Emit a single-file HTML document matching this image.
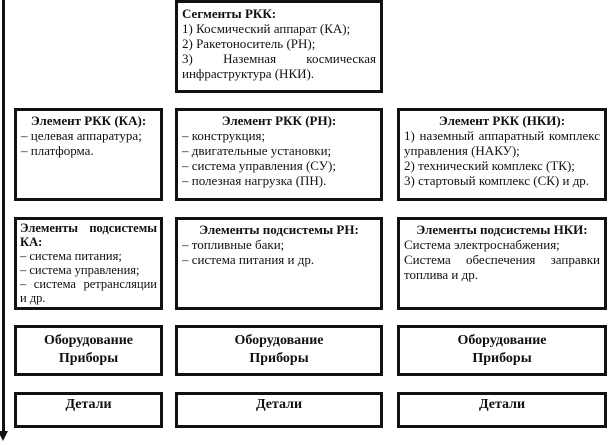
<!DOCTYPE html>
<html><head><meta charset="utf-8"><style>
body{margin:0;width:610px;height:445px;background:#fff;position:relative;overflow:hidden;font-family:"Liberation Serif","DejaVu Serif",serif;font-size:13px;color:#111;}
.b{position:absolute;border:3px solid #111;box-sizing:border-box;padding:2px 4px;line-height:15px;}
.h{font-weight:bold;text-align:center;}
.j{text-align:justify;text-align-last:justify;}
.big{font-weight:bold;text-align:center;font-size:14px;line-height:18px;padding-top:4px;}
</style></head><body>
<div style="position:absolute;left:2px;top:0;width:3px;height:432px;background:#111"></div>
<div style="position:absolute;left:-2px;top:431px;width:0;height:0;border-left:5px solid transparent;border-right:5px solid transparent;border-top:10px solid #111;margin-left:0"></div>

<div class="b" style="left:175px;top:0;width:208px;height:93px;padding-top:3px">
<div style="font-weight:bold">Сегменты РКК:</div>
1) Космический аппарат (КА);<br>2) Ракетоноситель (РН);<br>
<div class="j">3) Наземная космическая</div>инфраструктура (НКИ).</div>

<div class="b" style="left:14px;top:108px;width:149px;height:93px"><div class="h">Элемент РКК (КА):</div>– целевая аппаратура;<br>– платформа.</div>
<div class="b" style="left:175px;top:108px;width:208px;height:93px"><div class="h">Элемент РКК (РН):</div>– конструкция;<br>– двигательные установки;<br>– система управления (СУ);<br>– полезная нагрузка (ПН).</div>
<div class="b" style="left:397px;top:108px;width:210px;height:93px"><div class="h">Элемент РКК (НКИ):</div><div class="j">1) наземный аппаратный комплекс</div>управления (НАКУ);<br>2) технический комплекс (ТК);<br>3) стартовый комплекс (СК) и др.</div>

<div class="b" style="left:14px;top:217px;width:149px;height:93px;line-height:14px;padding-top:1px;padding-left:3px;padding-right:3px;font-size:12.5px"><div class="j" style="font-weight:bold">Элементы подсистемы</div><b>КА:</b><br>– система питания;<br>– система управления;<br><div class="j">– система ретрансляции</div>и др.</div>
<div class="b" style="left:175px;top:217px;width:208px;height:93px"><div class="h">Элементы подсистемы РН:</div>– топливные баки;<br>– система питания и др.</div>
<div class="b" style="left:397px;top:217px;width:210px;height:93px"><div class="h">Элементы подсистемы НКИ:</div>Система электроснабжения;<br><div class="j">Система обеспечения заправки</div>топлива и др.</div>

<div class="b big" style="left:14px;top:325px;width:149px;height:51px">Оборудование<br>Приборы</div>
<div class="b big" style="left:175px;top:325px;width:208px;height:51px">Оборудование<br>Приборы</div>
<div class="b big" style="left:397px;top:325px;width:210px;height:51px">Оборудование<br>Приборы</div>

<div class="b big" style="left:14px;top:392px;width:149px;height:36px;padding-top:1px">Детали</div>
<div class="b big" style="left:175px;top:392px;width:208px;height:36px;padding-top:1px">Детали</div>
<div class="b big" style="left:397px;top:392px;width:210px;height:36px;padding-top:1px">Детали</div>
</body></html>
